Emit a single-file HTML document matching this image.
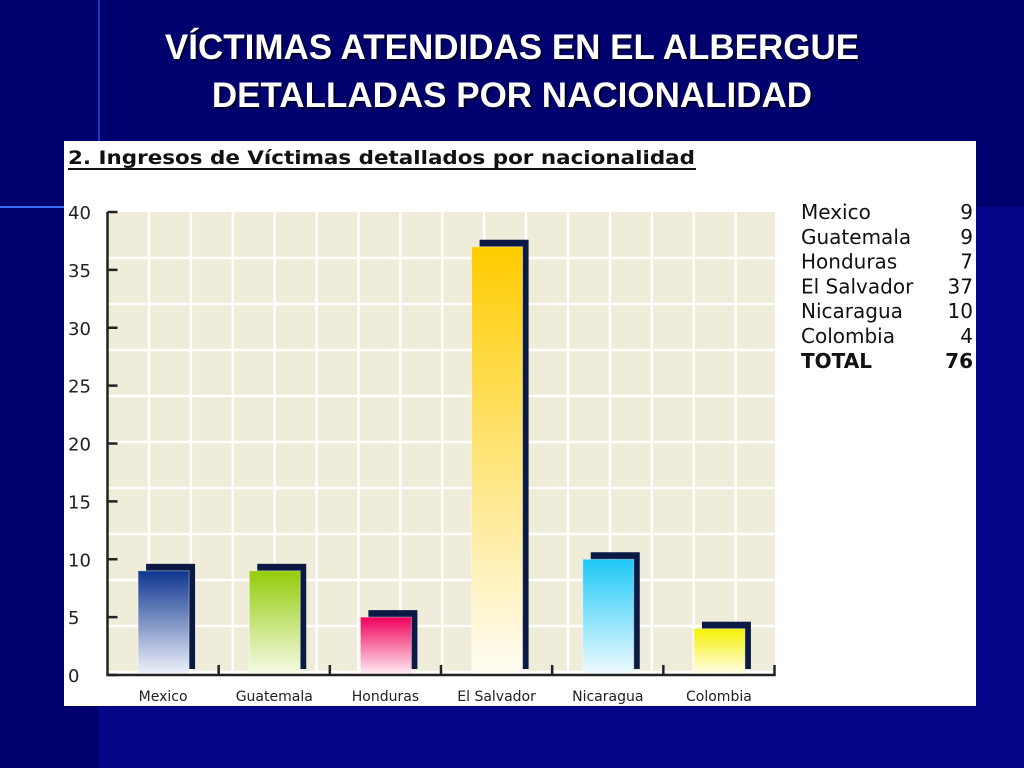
<!DOCTYPE html>
<html><head><meta charset="utf-8"><style>
body{margin:0;width:1024px;height:768px;overflow:hidden;background:#00006e;font-family:"DejaVu Sans","Liberation Sans",sans-serif}
svg{display:block}
</style></head><body>
<svg width="1024" height="768">
<defs>
<linearGradient id="gBlue" x1="0" y1="0" x2="0" y2="1"><stop offset="0" stop-color="#0d3590"/><stop offset="1" stop-color="#f2f4fb"/></linearGradient>
<linearGradient id="gGreen" x1="0" y1="0" x2="0" y2="1"><stop offset="0" stop-color="#93cc0a"/><stop offset="1" stop-color="#f8fbea"/></linearGradient>
<linearGradient id="gPink" x1="0" y1="0" x2="0" y2="1"><stop offset="0" stop-color="#f0005a"/><stop offset="1" stop-color="#fff0f6"/></linearGradient>
<linearGradient id="gYellow" x1="0" y1="0" x2="0" y2="1"><stop offset="0" stop-color="#ffcc00"/><stop offset="1" stop-color="#fffdf5"/></linearGradient>
<linearGradient id="gCyan" x1="0" y1="0" x2="0" y2="1"><stop offset="0" stop-color="#1ec8f5"/><stop offset="1" stop-color="#f2fbff"/></linearGradient>
<linearGradient id="gLemon" x1="0" y1="0" x2="0" y2="1"><stop offset="0" stop-color="#f5f000"/><stop offset="1" stop-color="#fffff0"/></linearGradient>
</defs>
<rect x="99" y="207" width="925" height="561" fill="#05058a"/>
<line x1="0" y1="207" x2="64" y2="207" stroke="#3a6cff" stroke-width="2"/>
<line x1="99" y1="0" x2="99" y2="141" stroke="#2a4cd0" stroke-width="1.5"/>
<g font-family="Liberation Sans, sans-serif" font-weight="bold" font-size="35" fill="#fff" text-anchor="middle">
<text x="514" y="61" fill="#000" opacity="0.6">VÍCTIMAS ATENDIDAS EN EL ALBERGUE</text>
<text x="512" y="59">VÍCTIMAS ATENDIDAS EN EL ALBERGUE</text>
<text x="514" y="109" fill="#000" opacity="0.6">DETALLADAS POR NACIONALIDAD</text>
<text x="512" y="107">DETALLADAS POR NACIONALIDAD</text>
</g>
<rect x="64" y="141" width="912" height="565" fill="#fff"/>
<text x="68" y="164" font-size="19" font-weight="bold" fill="#111" textLength="627" lengthAdjust="spacingAndGlyphs">2. Ingresos de Víctimas detallados por nacionalidad</text>
<line x1="68" y1="169" x2="696" y2="169" stroke="#111" stroke-width="2"/>
<rect x="108" y="212" width="667" height="463" fill="#efecd9"/>
<g id="grid"></g>
<g id="bars"></g>
<g id="axes"></g>
<g id="legend" font-size="20" fill="#111"></g>
</svg>
<script>
const categories=["Mexico","Guatemala","Honduras","El Salvador","Nicaragua","Colombia"];
const values=[9,9,5,37,10,4];
const fills=["gBlue","gGreen","gPink","gYellow","gCyan","gLemon"];
const yTicks=[0,5,10,15,20,25,30,35,40];
const legendNames=["Mexico","Guatemala","Honduras","El Salvador","Nicaragua","Colombia","TOTAL"];
const legendValues=["9","9","7","37","10","4","76"];
const NS="http://www.w3.org/2000/svg";
const X0=107.5,X1=774.5,Y0=675,Y1=212,YMAX=40;
const bw=(X1-X0)/categories.length;
const y=v=>Y0-(v/YMAX)*(Y0-Y1);
const xc=i=>X0+bw*(i+0.5);
function mk(tag,attrs,parent){const e=document.createElementNS(NS,tag);for(const k in attrs)e.setAttribute(k,attrs[k]);parent.appendChild(e);return e;}
const grid=document.getElementById('grid'),bars=document.getElementById('bars'),axes=document.getElementById('axes'),leg=document.getElementById('legend');
for(let gx=149;gx<775;gx+=41.9){const l=mk('line',{x1:gx,y1:Y1,x2:gx,y2:Y0,stroke:'#fff','stroke-width':2.5},grid);

}
for(let gy=258;gy<Y0;gy+=46){const l=mk('line',{x1:X0,y1:gy,x2:X1,y2:gy,stroke:'#fff','stroke-width':2.5},grid);

}
values.forEach((v,i)=>{
 const cx=xc(i),top=y(v);
 const s=mk('rect',{x:cx-17,y:top-7,width:49,height:Y0-6-(top-7),fill:'#0a1a45'},bars);
 
 
 const r=mk('rect',{x:cx-25,y:top,width:51,height:Y0-top,fill:'url(#'+fills[i]+')',stroke:'#ffffff','stroke-opacity':0.4},bars);
 
 
 const t=mk('text',{x:cx,y:701,'font-size':14,'text-anchor':'middle',fill:'#222'},axes);t.textContent=categories[i];
 
 
 if(i>0){const tk=mk('line',{x1:X0+bw*i,y1:Y0,x2:X0+bw*i,y2:Y0-10,stroke:'#222','stroke-width':2.5},axes);
 
 }
});
const ax=mk('path',{d:`M${X0} ${Y1} V${Y0} H${X1} V${Y0-10}`,stroke:'#222','stroke-width':2.5,fill:'none'},axes);


yTicks.forEach(v=>{
 const tk=mk('line',{x1:X0,y1:y(v),x2:X0+10,y2:y(v),stroke:'#222','stroke-width':2.5},axes);
 
 
 const t=mk('text',{x:68,y:y(v)+7,'font-size':18,fill:'#222'},axes);t.textContent=v;
 
 
});
legendNames.forEach((n,i)=>{
 const bold=i===legendNames.length-1;
 const yy=219+i*24.8;
 const a=mk('text',{x:801,y:yy,'font-weight':bold?'bold':'normal'},leg);a.textContent=n;
 
 
 const b=mk('text',{x:973,y:yy,'text-anchor':'end','font-weight':bold?'bold':'normal'},leg);b.textContent=legendValues[i];
 
 
});
</script>
</body></html>
